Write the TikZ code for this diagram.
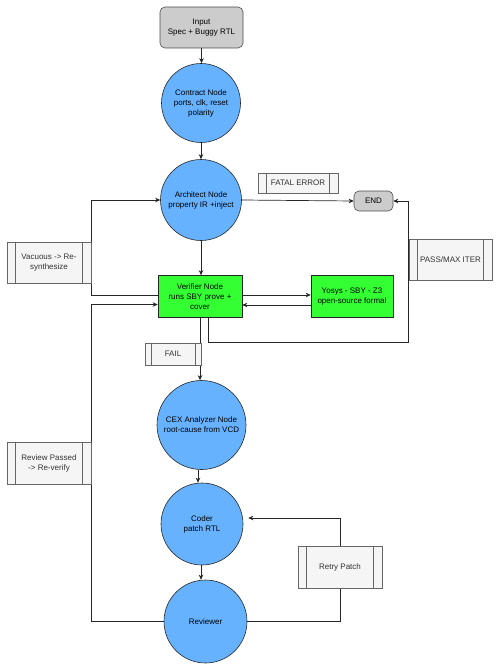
\documentclass[tikz,border=0pt]{standalone}
\usepackage{fontspec}
\setmainfont{Liberation Sans}
\usetikzlibrary{arrows.meta,calc}
\definecolor{cblue}{HTML}{66B2FF}
\definecolor{cgreen}{HTML}{33FF33}
\definecolor{cgray}{HTML}{CCCCCC}
\definecolor{lfill}{HTML}{F5F5F5}
\definecolor{lline}{HTML}{666666}
\definecolor{ltext}{HTML}{333333}
\begin{document}
\begin{tikzpicture}[x=1pt,y=-1pt,
  every node/.style={font=\fontsize{8}{10}\selectfont, align=center, inner sep=1pt},
  circ/.style={circle, draw=black!85, line width=0.6pt, fill=cblue, minimum size=#1},
  gbox/.style={rectangle, draw=black!85, line width=0.6pt, fill=cgreen, minimum width=84pt, minimum height=42pt},
  graybox/.style={rectangle, rounded corners=5pt, draw=black!70, line width=0.6pt, fill=cgray},
  lbl/.style={rectangle, draw=lline, line width=0.6pt, fill=lfill, text=ltext,
    path picture={
      \draw[lline, line width=0.6pt] ([xshift=#1]path picture bounding box.north west) -- ([xshift=#1]path picture bounding box.south west);
      \draw[lline, line width=0.6pt] ([xshift=-#1]path picture bounding box.north east) -- ([xshift=-#1]path picture bounding box.south east);
    }},
  lbl/.default=8.5pt,
  arr/.style={draw=black!85, line width=0.7pt, -{Stealth[length=5pt,width=4.5pt,inset=1.5pt]}},
  ln/.style={draw=black!85, line width=0.7pt}
]
\useasboundingbox (0,0) rectangle (499,669);

% main nodes
\node[graybox, minimum width=83pt, minimum height=41pt] (input) at (201.5,27.5) {Input\\Spec + Buggy RTL};
\node[circ=79pt] (contract) at (201,103) {Contract Node\\ports, clk, reset\\polarity};
\node[circ=81pt] (arch) at (201,200) {Architect Node\\property IR +inject};
\node[graybox, minimum width=39pt, minimum height=20pt] (endn) at (373.5,201) {END};
\node[gbox] (ver) at (200,296.5) {Verifier Node\\runs SBY prove +\\cover};
\node[gbox, minimum width=82pt] (yos) at (352,296.5) {Yosys - SBY - Z3\\open-source formal};
\node[circ=89pt] (cex) at (201.5,425) {CEX Analyzer Node\\root-cause from VCD};
\node[circ=82pt] (coder) at (202,524) {Coder\\patch RTL};
\node[circ=83pt] (rev) at (205.5,621.5) {Reviewer};

% helper coordinates
\coordinate (lx) at (91,0);
\coordinate (rx) at (408,342);
\coordinate (rt) at (340,518);

% connectors
\draw[arr] (input.south) -- (input.south |- contract.north);
\draw[arr] (contract.south) -- (contract.south |- arch.north);
\draw[arr] (arch.east) -- (endn.west);
\draw[arr] (arch.south) -- (arch.south |- ver.north);
\draw[arr] ([yshift=1.5pt]ver.west) -| (lx |- arch.west) -- (arch.west);
\draw[arr] (rev.west) -| ([yshift=-8pt]ver.west -| lx) -- ([yshift=-8pt]ver.west);
\draw[arr] ([yshift=1.5pt]ver.east) -- ([yshift=1.5pt]yos.west);
\draw[arr] ([yshift=-8.5pt]yos.west) -- ([yshift=-8.5pt]ver.east);
\draw[arr] ([xshift=8pt]ver.south) |- (rx) |- (endn.east);
\draw[arr] (ver.south) -- (ver.south |- cex.north);
\draw[arr] ([xshift=-3.5pt]cex.south) -- ([xshift=-3.5pt]cex.south |- coder.north);
\draw[arr] ([xshift=-1pt]coder.south) -- ([xshift=-1pt]coder.south |- rev.north);
\draw[ln] (rev.east) -| (rt);
\draw[arr] (rt) -- ([xshift=5pt,yshift=6pt]coder.east);

% edge labels
\node[lbl, minimum width=80pt, minimum height=20pt] (fatal) at (298,183) {FATAL ERROR};
\node[lbl, minimum width=84pt, minimum height=41pt] (vac) at (49,262.5) {Vacuous -> Re-\\synthesize};
\node[lbl, minimum width=83pt, minimum height=41pt] (pass) at (450.5,259.5) {PASS/MAX ITER};
\node[lbl=6pt, minimum width=56pt, minimum height=22pt] (fail) at (173,354) {FAIL};
\node[lbl, minimum width=84pt, minimum height=42pt] (revpass) at (49,463) {Review Passed\\-> Re-verify};
\node[lbl, minimum width=84pt, minimum height=42pt] (retry) at (340,567) {Retry Patch};
\end{tikzpicture}
\end{document}
